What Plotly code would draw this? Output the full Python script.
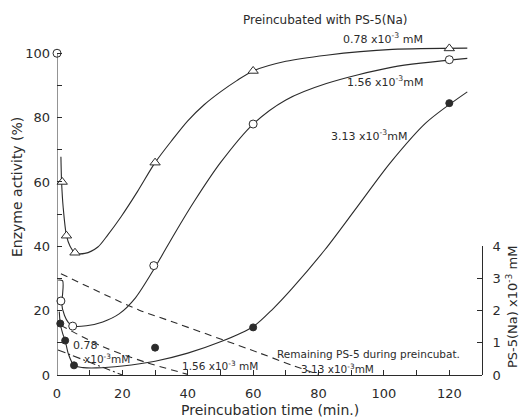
import plotly.graph_objects as go

# ---------------- data ----------------
# measured points: enzyme activity (%) vs preincubation time (min)
control_t = [0]
control_act = [100]

t_078 = [1.6, 2.9, 5.5, 30, 60, 120]
act_078 = [60, 43.3, 38, 66, 94.5, 101.5]

t_156 = [1.2, 4.8, 29.6, 60, 120]
act_156 = [23, 15.2, 34, 78, 98]

t_313 = [1.0, 2.5, 5.2, 30, 60, 120]
act_313 = [16, 10.7, 3, 8.5, 14.8, 84.5]

# hand-drawn fitted curves
curve_078_t = [1.2, 1.4, 1.9, 2.9, 4.0, 5.5, 8.5, 12.5, 15.5, 19.6, 24.6, 30, 35.2, 40, 45, 50, 55, 60, 70, 82.4, 102.6, 125.5]
curve_078_y = [67.8, 60, 52, 43.3, 40, 38, 37.8, 39.8, 43.5, 49.2, 57, 66, 73, 79, 84, 88, 91.5, 94.5, 97.5, 99.4, 101.2, 101.6]

curve_156_t = [0.4, 1.7, 1.7, 1.4, 2.3, 3.5, 5, 9, 14, 19, 24, 30, 36, 42, 50, 60, 70, 82.4, 102.6, 125.5]
curve_156_y = [29.5, 29.3, 25, 22.5, 18.5, 16.3, 15.2, 15.3, 16.5, 19, 24, 33.5, 44, 54, 66, 78, 85.5, 90.6, 95.7, 98.4]

curve_313_t = [0.7, 1.0, 1.7, 2.5, 3.5, 5.2, 8, 12, 20, 30, 40, 50, 60, 66, 72, 82, 92, 102, 113, 125.5]
curve_313_y = [19.7, 16, 13, 10.7, 6.5, 3, 2.3, 2.2, 2.8, 4.3, 6.8, 10.3, 15, 20.5, 27, 39, 52.5, 66, 78.5, 88]

# remaining PS-5 during preincubation (x10^-3 mM, right axis)
rem_078_t = [0.3, 20]
rem_078 = [0.78, 0.0]
rem_156_t = [1.0, 14, 27, 40]
rem_156 = [1.55, 0.88, 0.40, 0.02]
rem_313_t = [1.2, 25, 34, 61.5, 72, 80]
rem_313 = [3.15, 2.02, 1.70, 0.70, 0.30, 0.02]

x_ticks = [0, 20, 40, 60, 80, 100, 120]
y_ticks = [0, 20, 40, 60, 80, 100]
y2_ticks = [0, 1, 2, 3, 4]

# ---------------- styling ----------------
INK = "#2b2b2b"
FONT = "DejaVu Sans"
LW = 1.1
W, H = 520, 418
ML, MR, MT, MB = 57, 38, 42, 43

fig = go.Figure()

def curve(t, y, yaxis="y", dash="solid"):
    fig.add_trace(go.Scatter(x=t, y=y, mode="lines", yaxis=yaxis,
                             line=dict(color=INK, width=LW, dash=dash, shape="spline", smoothing=0.8),
                             hoverinfo="skip", showlegend=False))

curve(curve_078_t, curve_078_y)
curve(curve_156_t, curve_156_y)
curve(curve_313_t, curve_313_y)

curve(rem_078_t, rem_078, "y2", "8px,3px,2px,3px")
curve(rem_156_t, rem_156, "y2", "7px,5px")
curve(rem_313_t, rem_313, "y2", "7px,5px")

def pts(t, y, symbol, size, filled):
    fig.add_trace(go.Scatter(x=t, y=y, mode="markers", cliponaxis=False,
                             marker=dict(symbol=symbol, size=size,
                                         color=INK if filled else "white",
                                         line=dict(color=INK, width=1)),
                             showlegend=False))

pts(t_078, act_078, "triangle-up", 9, False)
pts(t_156, act_156, "circle", 8, False)
pts(t_313, act_313, "circle", 7, True)
pts(control_t, control_act, "circle", 8, False)

axis_common = dict(showgrid=False, zeroline=False, color=INK,
                   tickfont=dict(family=FONT, size=13, color=INK),
                   ticks="inside", ticklen=5, tickwidth=1, tickcolor=INK)

fig.update_layout(
    width=W, height=H,
    margin=dict(l=ML, r=MR, t=MT, b=MB),
    paper_bgcolor="white", plot_bgcolor="rgba(0,0,0,0)",
    font=dict(family=FONT, color=INK),
    xaxis=dict(range=[0, 130], tickvals=x_ticks, showline=True, linecolor=INK, linewidth=1,
               minor=dict(dtick=10, ticks="inside", ticklen=5, tickcolor=INK, showgrid=False),
               ticklabelstandoff=6, **axis_common),
    yaxis=dict(range=[0, 103.5], tickvals=y_ticks, showline=False,
               minor=dict(dtick=10, ticks="inside", ticklen=5, tickcolor=INK, showgrid=False),
               ticklabelstandoff=6, **axis_common),
    yaxis2=dict(range=[0, 4], tickvals=y2_ticks, domain=[0, 40 / 103.5], anchor="x", side="right",
                showline=True, linecolor=INK, linewidth=1, ticklabelstandoff=7, **axis_common),
)

# left axis line only up to 100
fig.add_shape(type="line", xref="x", yref="y", x0=0, x1=0, y0=0, y1=100,
              line=dict(color=INK, width=1))

PW, PH = W - ML - MR, H - MT - MB

def label(px, py, text, size=11, angle=0):
    fig.add_annotation(x=(px - ML) / PW, y=(H - MB - py) / PH, xref="paper", yref="paper",
                       text=text, showarrow=False, textangle=angle,
                       xanchor="center", yanchor="middle",
                       font=dict(family=FONT, size=size, color=INK))

label(325, 20, "Preincubated with PS-5(Na)", 12)
label(383, 38, "0.78 x10<sup>-3</sup> mM", 11)
label(385, 82, "1.56 x10<sup>-3</sup>mM", 11)
label(369, 135, "3.13 x10<sup>-3</sup>mM", 11)
label(85, 345, "0.78", 11)
label(107, 358, "x10<sup>-3</sup>mM", 10.5)
label(220, 365, "1.56 x10<sup>-3</sup> mM", 10.5)
label(368, 354, "Remaining PS-5 during preincubat.", 10.5)
label(337, 368, "3.13 x10<sup>-3</sup>mM", 10.5)

label(17, 187, "Enzyme activity (%)", 14, -90)
label(270, 410, "Preincubation time (min.)", 14)
label(512, 307, "PS-5(Na) x10<sup>-3</sup> mM", 13, -90)

fig.write_html("out.html")
